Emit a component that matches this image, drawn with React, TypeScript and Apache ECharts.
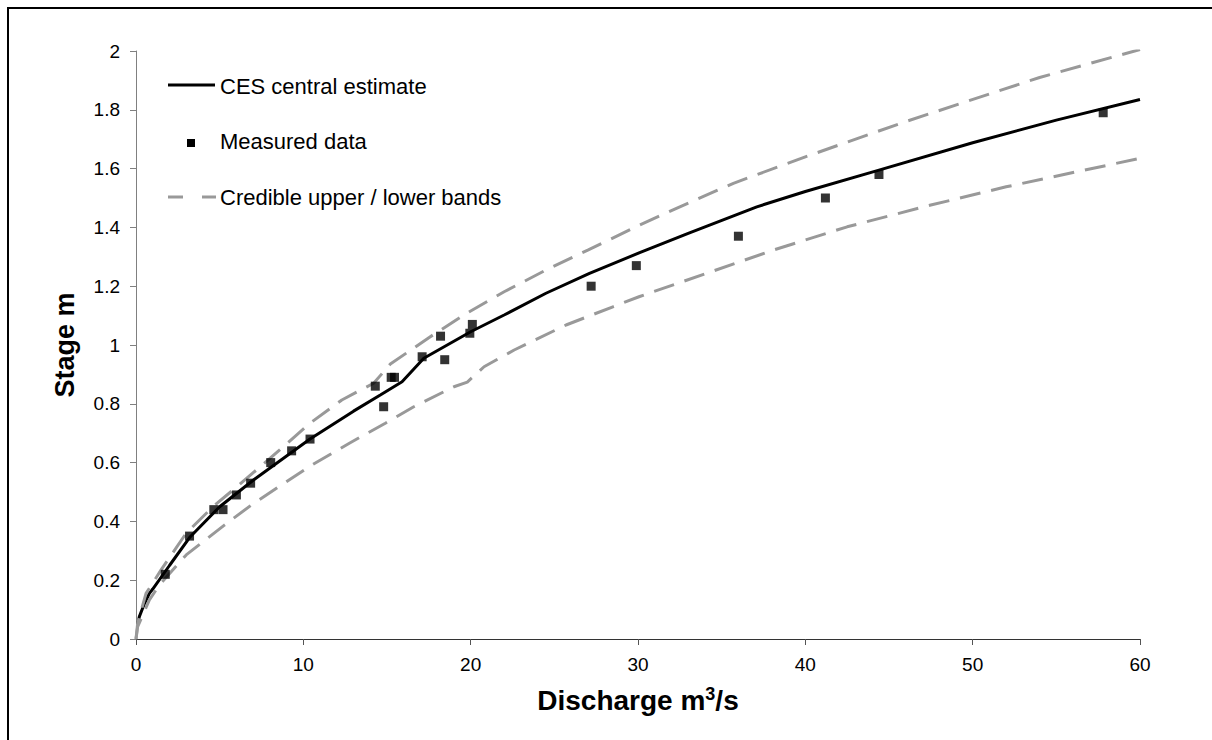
import React, { useEffect, useRef } from "react";
import * as echarts from "echarts";

// Central estimate (CES rating curve)
const centralX = [0.1, 0.2, 0.5, 0.8, 1, 2, 3.2, 5, 7, 10.4, 13, 14.6, 15.9, 17.2, 20, 22, 24.5, 27.1, 30.1, 33, 37.1, 40, 44.4, 50, 55, 60];
const centralY = [0.05, 0.076, 0.12, 0.155, 0.17, 0.25, 0.345, 0.45, 0.54, 0.68, 0.775, 0.83, 0.875, 0.955, 1.045, 1.102, 1.176, 1.244, 1.314, 1.38, 1.47, 1.522, 1.595, 1.688, 1.765, 1.835];

// Credible upper band
const upperX = [0, 0.1, 0.6, 1.5, 3, 4.6, 5.8, 7.2, 8.8, 10.4, 12.3, 14.2, 15.2, 17.5, 19.7, 22, 24.5, 27, 30.1, 32.5, 35.7, 40, 46, 54, 60];
const upperY = [0, 0.054, 0.155, 0.235, 0.36, 0.45, 0.507, 0.575, 0.654, 0.734, 0.813, 0.87, 0.935, 1.025, 1.106, 1.181, 1.255, 1.323, 1.408, 1.47, 1.55, 1.64, 1.76, 1.91, 2.005];

// Credible lower band
const lowerX = [0, 0.1, 0.8, 1.4, 3, 5.3, 6.9, 8.7, 10.4, 12.75, 14.9, 16.6, 19, 19.8, 20.8, 22.6, 25.7, 28.5, 30.1, 38.1, 42.5, 47.5, 52, 60];
const lowerY = [0, 0.042, 0.133, 0.184, 0.286, 0.388, 0.456, 0.524, 0.588, 0.666, 0.734, 0.79, 0.858, 0.874, 0.926, 0.983, 1.068, 1.13, 1.165, 1.323, 1.402, 1.476, 1.538, 1.635];

// Measured data
const measuredX = [1.75, 3.2, 4.65, 5.2, 6.0, 6.85, 8.05, 9.3, 10.4, 14.3, 14.8, 15.25, 15.45, 17.1, 18.2, 18.45, 19.95, 20.1, 27.2, 29.9, 36.0, 41.2, 44.4, 57.8];
const measuredY = [0.22, 0.35, 0.44, 0.44, 0.49, 0.53, 0.6, 0.64, 0.68, 0.86, 0.79, 0.89, 0.89, 0.96, 1.03, 0.95, 1.04, 1.07, 1.2, 1.27, 1.37, 1.5, 1.58, 1.79];

const legendNames = ["CES central estimate", "Measured data", "Credible upper / lower bands"];

const FONT = "'Liberation Sans', Arial, Helvetica, sans-serif";
const BAND = "#999999";

const zip = (xs: number[], ys: number[]) => xs.map((x, i) => [x, ys[i]]);

export default function App() {
  const ref = useRef<HTMLDivElement>(null);

  useEffect(() => {
    if (!ref.current) return;
    const chart = echarts.init(ref.current, undefined, { renderer: "svg" });
    chart.setOption({
      animation: false,
      backgroundColor: "#ffffff",
      textStyle: { fontFamily: FONT },
      grid: { left: 136, top: 51, right: 72, bottom: 101 },
      xAxis: {
        type: "value",
        min: 0,
        max: 60,
        interval: 10,
        name: "Discharge m{sup|3}/s",
        nameLocation: "middle",
        nameGap: 46,
        nameTextStyle: {
          fontFamily: FONT,
          fontSize: 28,
          fontWeight: "bold",
          color: "#000",
          rich: {
            sup: { fontFamily: FONT, fontSize: 18, fontWeight: "bold", color: "#000", verticalAlign: "top", padding: [0, 0, 13, 0] },
          },
        },
        axisLine: { show: true, onZero: false, lineStyle: { color: "#333", width: 1 } },
        axisTick: { show: true, inside: false, length: 6, lineStyle: { color: "#555" } },
        axisLabel: { fontFamily: FONT, fontSize: 19, color: "#000", margin: 16 },
        splitLine: { show: false },
      },
      yAxis: {
        type: "value",
        min: 0,
        max: 2,
        interval: 0.2,
        name: "Stage m",
        nameLocation: "middle",
        nameGap: 58,
        nameTextStyle: { fontFamily: FONT, fontSize: 27, fontWeight: "bold", color: "#000" },
        axisLine: { show: true, onZero: false, lineStyle: { color: "#808080", width: 1 } },
        axisTick: { show: true, inside: false, length: 6, lineStyle: { color: "#808080" } },
        axisLabel: { fontFamily: FONT, fontSize: 19, color: "#000", margin: 16 },
        splitLine: { show: false },
      },
      series: [
        {
          name: legendNames[0],
          type: "line",
          data: zip(centralX, centralY),
          showSymbol: false,
          symbol: "none",
          lineStyle: { color: "#000", width: 3 },
          z: 2,
        },
        {
          name: legendNames[2],
          type: "line",
          data: zip(upperX, upperY),
          showSymbol: false,
          symbol: "none",
          lineStyle: { color: BAND, width: 3, type: [21, 11] },
          z: 3,
        },
        {
          name: legendNames[2],
          type: "line",
          data: zip(lowerX, lowerY),
          showSymbol: false,
          symbol: "none",
          lineStyle: { color: BAND, width: 3, type: [21, 11] },
          z: 3,
        },
        {
          name: legendNames[1],
          type: "scatter",
          data: zip(measuredX, measuredY),
          symbol: "rect",
          symbolSize: 9,
          itemStyle: { color: "#000" },
          z: 4,
        },
      ],
      graphic: [
        {
          type: "rect",
          shape: { x: 8, y: 8, width: 1240, height: 780 },
          style: { fill: "none", stroke: "#000", lineWidth: 2 },
          silent: true,
          z: 100,
        },
        { type: "line", shape: { x1: 168, y1: 85, x2: 215, y2: 85 }, style: { stroke: "#000", lineWidth: 3 }, z: 100 },
        { type: "text", x: 220, y: 86, style: { text: legendNames[0], font: `22px ${FONT}`, fill: "#000", verticalAlign: "middle" }, z: 100 },
        { type: "rect", shape: { x: 187, y: 139, width: 8, height: 8 }, style: { fill: "#000" }, z: 100 },
        { type: "text", x: 220, y: 141, style: { text: legendNames[1], font: `22px ${FONT}`, fill: "#000", verticalAlign: "middle" }, z: 100 },
        { type: "line", shape: { x1: 168, y1: 197, x2: 183, y2: 197 }, style: { stroke: BAND, lineWidth: 3 }, z: 100 },
        { type: "line", shape: { x1: 202, y1: 197, x2: 216, y2: 197 }, style: { stroke: BAND, lineWidth: 3 }, z: 100 },
        { type: "text", x: 220, y: 197, style: { text: legendNames[2], font: `22px ${FONT}`, fill: "#000", verticalAlign: "middle" }, z: 100 },
      ],
    });
    return () => chart.dispose();
  }, []);

  return (
    <div
      ref={ref}
      style={{ position: "fixed", left: 0, top: 0, width: 1212, height: 740, background: "#fff" }}
    />
  );
}
